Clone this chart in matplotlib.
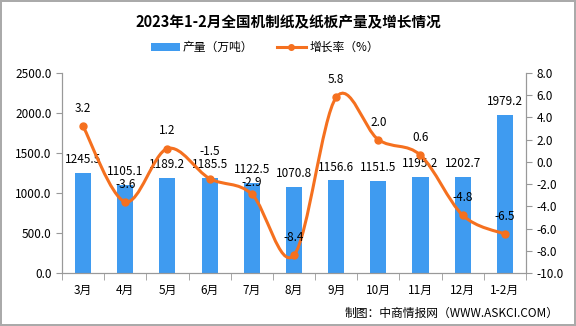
import numpy as np
import matplotlib.pyplot as plt
from matplotlib.path import Path
from matplotlib.patches import PathPatch

plt.rcParams['font.family'] = ['Noto Sans CJK SC', 'DejaVu Sans']
plt.rcParams['axes.unicode_minus'] = False

months = ["3月", "4月", "5月", "6月", "7月", "8月", "9月", "10月", "11月", "12月", "1-2月"]
output = [1245.5, 1105.1, 1189.2, 1185.5, 1122.5, 1070.8, 1156.6, 1151.5, 1195.2, 1202.7, 1979.2]
growth = [3.2, -3.6, 1.2, -1.5, -2.9, -8.4, 5.8, 2.0, 0.6, -4.8, -6.5]

BAR = "#3F9BF0"
LINE = "#F5701F"
GRID = "#999999"


def smooth_path(xs, ys, t=1 / 6):
    """Bezier path through the points, Excel-style smoothing."""
    pts = np.column_stack([xs, ys]).astype(float)
    verts = [pts[0]]
    codes = [Path.MOVETO]
    n = len(pts)
    for i in range(n - 1):
        p0 = pts[i - 1] if i > 0 else pts[i]
        p1, p2 = pts[i], pts[i + 1]
        p3 = pts[i + 2] if i + 2 < n else pts[i + 1]
        verts += [p1 + (p2 - p0) * t, p2 - (p3 - p1) * t, p2]
        codes += [Path.CURVE4] * 3
    return Path(verts, codes)


fig = plt.figure(figsize=(5.76, 3.26), dpi=100)
fig.patch.set_edgecolor("#AAAAAA")
fig.patch.set_linewidth(1.5)
ax = fig.add_axes([0.1076, 0.1626, 0.8055, 0.6135])
ax2 = ax.twinx()

x = np.arange(len(months))
ax.bar(x, output, width=0.38, color=BAR, zorder=2)
for xi, v in zip(x, output):
    ax.annotate(f"{v:.1f}", (xi, v), xytext=(0, 5), textcoords="offset points",
                ha="center", va="bottom", fontsize=8.5)

ax.set_xlim(-0.5, len(months) - 0.5)
ax.set_ylim(0, 2500)
ax.set_yticks(np.arange(0, 2501, 500))
ax.set_yticklabels([f"{v:.1f}" for v in np.arange(0, 2501, 500)], fontsize=8.5)
ax.set_xticks(x)
ax.set_xticklabels(months, fontsize=8.5)
ax.set_xticks(np.arange(-0.5, len(months), 1), minor=True)
ax.tick_params(axis="x", which="major", length=0, pad=8)
ax.tick_params(axis="x", which="minor", length=5, color=GRID, direction="out")
ax.tick_params(axis="y", length=4, color=GRID, direction="out")

ax2.set_ylim(-10, 8)
ax2.set_yticks(np.arange(-10, 8.1, 2))
ax2.set_yticklabels([f"{v:.1f}" for v in np.arange(-10, 8.1, 2)], fontsize=8.5)
ax2.tick_params(axis="y", length=4, color=GRID, direction="out")

ax2.add_patch(PathPatch(smooth_path(x, growth), facecolor="none", edgecolor=LINE, lw=2.2, zorder=3))
ax2.plot(x, growth, "o", color=LINE, ms=5, zorder=4)
# label offsets in points; the 6月 label sits higher, 7月 lower, as in the source
offsets = [8] * len(growth)
offsets[3] = 15
offsets[4] = 4
for xi, v, off in zip(x, growth, offsets):
    ax2.annotate(f"{v:.1f}", (xi, v), xytext=(0, off), textcoords="offset points",
                 ha="center", va="bottom", fontsize=8.5, zorder=5)

for a in (ax, ax2):
    a.spines["top"].set_visible(False)
    for s in ("left", "right", "bottom"):
        a.spines[s].set_color(GRID)

# legend proxies
bar_h = ax.bar([0], [0], color=BAR, label="产量（万吨）")
line_h, = ax.plot([], [], "-o", color=LINE, lw=2.2, ms=4, label="增长率（%）")
fig.legend(handles=[bar_h, line_h], loc="center", bbox_to_anchor=(0.46, 0.855), ncol=2,
           frameon=False, fontsize=8.5, handlelength=2.4, handletextpad=0.3,
           columnspacing=2.0)

fig.text(0.5, 0.932, "2023年1-2月全国机制纸及纸板产量及增长情况", ha="center", va="center",
         fontsize=10.5, fontweight="bold")
fig.text(0.97, 0.04, "制图：中商情报网（WWW.ASKCI.COM）", ha="right", va="center", fontsize=8.5)

fig.savefig("out.png", dpi=100)
